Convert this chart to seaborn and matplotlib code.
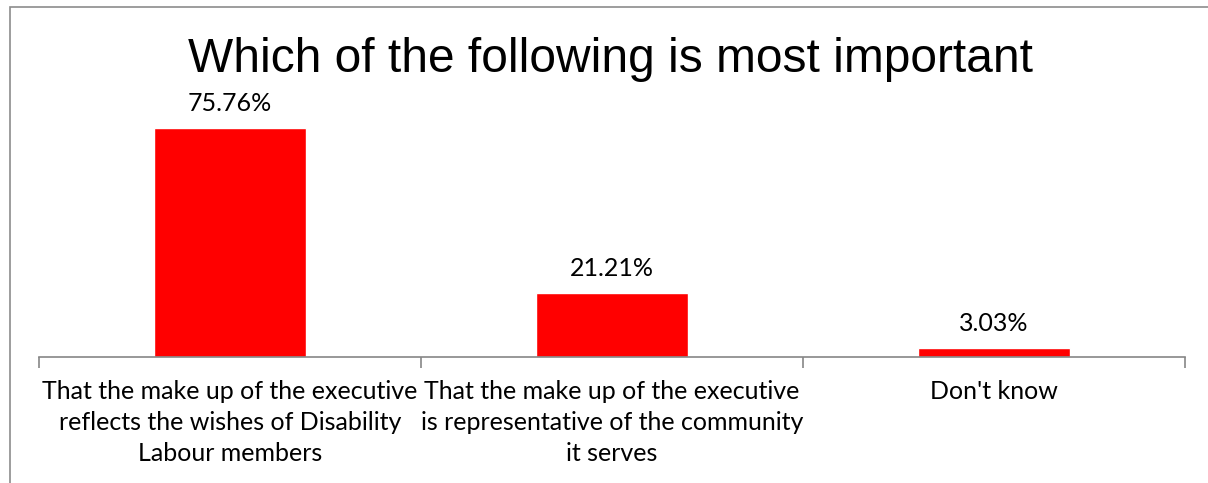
import matplotlib
matplotlib.use("Agg")
import matplotlib.pyplot as plt
from matplotlib.patches import Rectangle
from matplotlib.ticker import FixedLocator
import seaborn as sns
import pandas as pd

categories = [
    "That the make up of the executive\nreflects the wishes of Disability\nLabour members",
    "That the make up of the executive\nis representative of the community\nit serves",
    "Don't know",
]
percentages = [75.76, 21.21, 3.03]
value_labels = ["75.76%", "21.21%", "3.03%"]
title = "Which of the following is most important"

df = pd.DataFrame({"answer": categories, "pct": percentages})

sns.set_theme(style="white")
plt.rcParams["font.family"] = ["Lato", "DejaVu Sans"]

W, H = 1208, 483
fig = plt.figure(figsize=(W / 100, H / 100), dpi=100)

# outer chart frame (top and left edges visible)
fig.patches.append(Rectangle((10 / W, -0.1), 1.2, (H - 7) / H + 0.1,
                             transform=fig.transFigure, fill=False,
                             edgecolor="#8c8c8c", linewidth=1.2))

ax_left, ax_right = 39 / W, 1185 / W
ax_bottom, ax_top = (H - 357) / H, (H - 100) / H
ax = fig.add_axes([ax_left, ax_bottom, ax_right - ax_left, ax_top - ax_bottom])

sns.barplot(data=df, x="answer", y="pct", color="#ff0000", saturation=1,
            width=0.4, ax=ax)

px_per_unit = 3.02
ax.set_ylim(0, (357 - 100) / px_per_unit)
ax.set_xlim(-0.5, 2.5)

for i, (v, lab) in enumerate(zip(percentages, value_labels)):
    ax.annotate(lab, (i, v), xytext=(0, 17.5), textcoords="offset points",
                ha="center", va="center", fontsize=18, color="#000000")

for s in ["top", "right", "left"]:
    ax.spines[s].set_visible(False)
ax.spines["bottom"].set_color("#868686")
ax.spines["bottom"].set_linewidth(1.2)

ax.set_yticks([])
ax.set_xlabel("")
ax.set_ylabel("")
ax.xaxis.set_minor_locator(FixedLocator([-0.5, 0.5, 1.5, 2.5]))
ax.tick_params(axis="x", which="minor", bottom=True, length=8, width=1.2,
               color="#868686", direction="out")
ax.tick_params(axis="x", which="major", bottom=False, length=0, pad=16.5,
               labelsize=18, labelcolor="#000000")
for t in ax.get_xticklabels():
    t.set_ha("center")
    t.set_multialignment("center")
    t.set_linespacing(1.42)

fig.text(0.5 + 6 / W, (H - 59) / H, title, ha="center", va="center",
         fontsize=34.5, family=["Liberation Sans", "DejaVu Sans"],
         color="#000000")

fig.savefig("out.png", dpi=100)
